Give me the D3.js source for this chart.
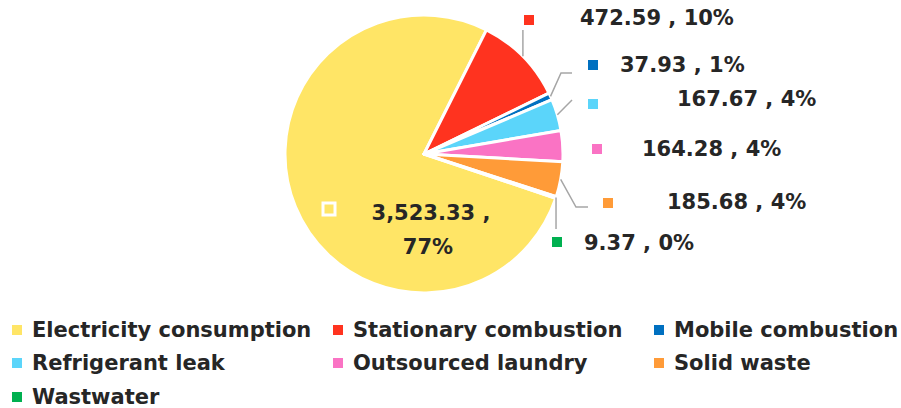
<!DOCTYPE html>
<html>
<head>
    <meta charset="utf-8">
    <title>Emissions by source</title>
    <script src="https://d3js.org/d3.v7.min.js"></script>
    <style>
        body { margin: 0; background: #fff; }
    </style>
</head>
<body>
    <div id="chart"></div>

    <script>
        // data
        var categories = ["Electricity consumption", "Stationary combustion", "Mobile combustion",
            "Refrigerant leak", "Outsourced laundry", "Solid waste", "Wastwater"];
        var values = [3523.33, 472.59, 37.93, 167.67, 164.28, 185.68, 9.37];
        var colors = ["#FFE566", "#FF331F", "#0070C0", "#5BD5FA", "#FA73C4", "#FF9B38", "#00B050"];

        var width = 901, height = 408;
        var cx = 424, cy = 154, radius = 139;
        var labelFont = "'DejaVu Sans', sans-serif";
        var textColor = "#262626";

        // callout layout for each slice: key square centre, text start, elbow points of the leader
        var callouts = [
            { sq: [329, 209], inside: true },
            { sq: [529, 20], tx: 580, ty: 18, elbow: [[null, 30]] },
            { sq: [593, 65], tx: 620, ty: 65, elbow: [[561, 73], [572, 73]] },
            { sq: [593, 104], tx: 677, ty: 99, elbow: [[572, 100]] },
            { sq: [597, 149], tx: 642, ty: 149, elbow: [] },
            { sq: [608, 203], tx: 667, ty: 202, elbow: [[576, 207], [588, 207]] },
            { sq: [557, 242], tx: 584, ty: 243, elbow: [[null, 229]] }
        ];

        var data = categories.map(function (c, i) {
            return { name: c, value: values[i], color: colors[i], i: i };
        });
        var total = d3.sum(values);
        var fmt = d3.format(",.2f");

        var svg = d3.select("#chart")
            .append("svg")
            .attr("width", width)
            .attr("height", height);

        var g = svg.append("g")
            .attr("transform", "translate(" + cx + "," + cy + ")");

        // first slice starts a bit past "3 o'clock"
        var startRad = 108.6 * Math.PI / 180;
        var pie = d3.pie()
            .sort(null)
            .value(function (d) { return d.value; })
            .startAngle(startRad)
            .endAngle(startRad + 2 * Math.PI);

        var arc = d3.arc().innerRadius(0).outerRadius(radius);
        var arcs = pie(data);

        g.selectAll("path.slice")
            .data(arcs)
            .enter()
            .append("path")
            .attr("class", "slice")
            .attr("d", arc)
            .attr("fill", function (d) { return d.data.color; })
            .attr("stroke", "#fff")
            .attr("stroke-width", 3)
            .attr("stroke-linejoin", "round");

        // leader lines, from the outer edge at the middle of each slice
        arcs.forEach(function (a, i) {
            var c = callouts[i];
            if (c.inside || c.elbow.length === 0) return;
            var mid = (a.startAngle + a.endAngle) / 2;
            var p0 = [cx + radius * Math.sin(mid), cy - radius * Math.cos(mid)];
            var pts = [p0];
            c.elbow.forEach(function (e) {
                pts.push([e[0] === null ? p0[0] : e[0], e[1]]);
            });
            svg.append("path")
                .attr("d", d3.line()(pts))
                .attr("fill", "none")
                .attr("stroke", "#A6A6A6")
                .attr("stroke-width", 1.5);
        });

        // data labels
        arcs.forEach(function (a, i) {
            var c = callouts[i];
            var d = a.data;
            var pct = Math.round(d.value / total * 100) + "%";
            var sqSize = c.inside ? 12 : 10;
            svg.append("rect")
                .attr("x", c.sq[0] - sqSize / 2)
                .attr("y", c.sq[1] - sqSize / 2)
                .attr("width", sqSize)
                .attr("height", sqSize)
                .attr("fill", d.color)
                .attr("stroke", c.inside ? "#fff" : "none")
                .attr("stroke-width", 3);

            if (c.inside) {
                var t = svg.append("text")
                    .attr("x", 431)
                    .attr("y", 213)
                    .attr("text-anchor", "middle")
                    .style("font-family", labelFont)
                    .style("font-weight", "bold")
                    .style("font-size", "21px")
                    .attr("fill", textColor);
                t.append("tspan").attr("x", 431).attr("dy", "0.35em").text(fmt(d.value) + " ,");
                t.append("tspan").attr("x", 428).attr("dy", "1.6em").text(pct);
            } else {
                svg.append("text")
                    .attr("x", c.tx)
                    .attr("y", c.ty)
                    .attr("dy", "0.35em")
                    .style("font-family", labelFont)
                    .style("font-weight", "bold")
                    .style("font-size", "21px")
                    .attr("fill", textColor)
                    .text(fmt(d.value) + " , " + pct);
            }
        });

        // legend, three columns
        var legendCols = [12, 333, 654];
        var legendRows = [330, 363, 397];
        var legend = svg.selectAll("g.legend")
            .data(data)
            .enter()
            .append("g")
            .attr("class", "legend")
            .attr("transform", function (d, i) {
                return "translate(" + legendCols[i % 3] + "," + legendRows[Math.floor(i / 3)] + ")";
            });

        legend.append("rect")
            .attr("x", 0)
            .attr("y", -5)
            .attr("width", 10)
            .attr("height", 10)
            .attr("fill", function (d) { return d.color; });

        legend.append("text")
            .attr("x", 20)
            .attr("y", 0)
            .attr("dy", "0.35em")
            .style("font-family", labelFont)
            .style("font-weight", "bold")
            .style("font-size", "21px")
            .attr("fill", textColor)
            .text(function (d) { return d.name; });
    </script>
</body>
</html>
